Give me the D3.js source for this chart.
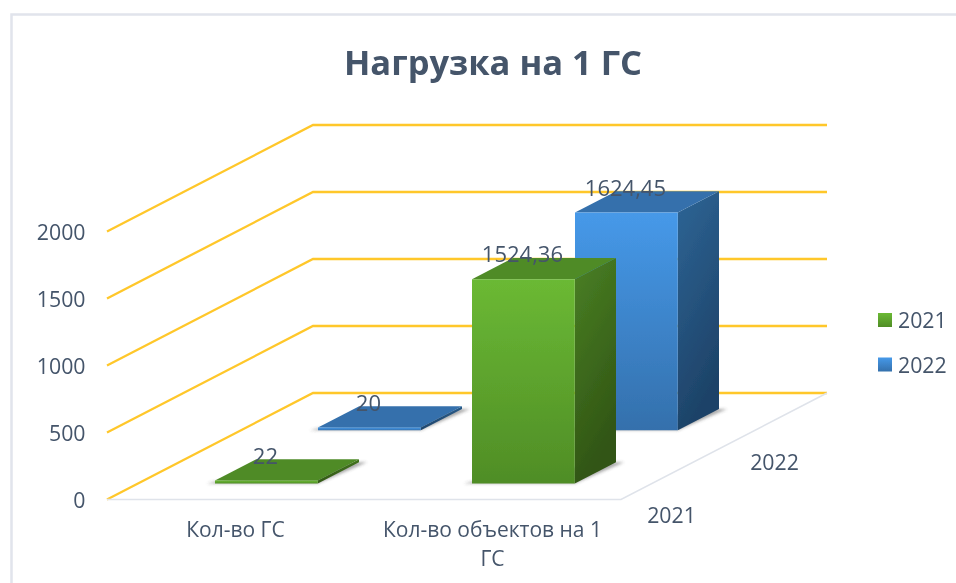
<!DOCTYPE html>
<html>
<head>
<meta charset="utf-8">
<script src="https://cdn.jsdelivr.net/npm/d3@7"></script>
<style>
  html, body { margin: 0; padding: 0; background: #fff; overflow: hidden; }
  svg { display: block; }
  text { font-family: "Open Sans", sans-serif; fill: #44546a; }
</style>
</head>
<body>
<div id="chart"></div>
<script>
const title = 'Нагрузка на 1 ГС'
    , categories = ['Кол-во ГС', 'Кол-во объектов на 1 ГС']
    , seriesNames = ['2021', '2022']
    , values2021 = [22, 1524.36]
    , values2022 = [20, 1624.45]
    , valueTicks = [0, 500, 1000, 1500, 2000]
    ;

const width = 956
    , height = 583
    , frontLeft = [107, 499.5]
    , frontWidth = 514
    , depthDx = 206
    , depthDy = 106.5
    ;

const seriesValues = [values2021, values2022]
    , palette = [
        { front: ['#6bb934', '#4f8d26'], side: ['#4a8024', '#305414'], top: '#4f8b28' },
        { front: ['#4699e9', '#3470ac'], side: ['#2e6596', '#1d4267'], top: '#3470ac' }
      ];

const xScale = d3.scaleBand().domain(categories).range([0, frontWidth]).paddingInner(0.6).paddingOuter(0.3)
    , zScale = d3.scaleBand().domain(seriesNames).range([0, 1]).paddingInner(0.6).paddingOuter(0.3)
    , yScale = d3.scaleLinear().domain([0, 2000]).range([0, 268])
    ;

// floor coords (x along front edge, z into the chart 0..1) plus value height -> screen
function project(x, z, v) {
  return [frontLeft[0] + x + z * depthDx, frontLeft[1] - z * depthDy - yScale(v)];
}

function poly(points) {
  return points.map(p => p.join(',')).join(' ');
}

const svg = d3.select('#chart')
  .append('svg')
    .attr('width', width)
    .attr('height', height)
    .attr('viewBox', [0, 0, width, height]);

const defs = svg.append('defs');

defs.append('filter').attr('id', 'soft')
  .append('feGaussianBlur').attr('stdDeviation', 0.5);
defs.append('filter').attr('id', 'shadow').attr('x', '-20%').attr('y', '-50%').attr('width', '140%').attr('height', '200%')
  .append('feGaussianBlur').attr('stdDeviation', 1.6);

function addGradient(id, colors, x2, y2) {
  const g = defs.append('linearGradient').attr('id', id)
      .attr('x1', 0).attr('y1', 0).attr('x2', x2).attr('y2', y2);
  g.append('stop').attr('offset', '0%').attr('stop-color', colors[0]);
  g.append('stop').attr('offset', '100%').attr('stop-color', colors[1]);
}

palette.forEach((p, i) => {
  addGradient('front' + i, p.front, 0, 1);
  addGradient('side' + i, p.side, 0.3, 1);
});

const root = svg.append('g').attr('filter', 'url(#soft)');

// chart frame, only top and left are in the crop
root.append('path')
    .attr('d', 'M11.5,' + height + 'V14.5H' + width)
    .attr('fill', 'none')
    .attr('stroke', '#e1e4ec')
    .attr('stroke-width', 2.5);

// walls
root.append('g').selectAll('polyline')
  .data(valueTicks)
  .join('polyline')
    .attr('points', d => poly([project(0, 0, d), project(0, 1, d), project(frontWidth, 1, d)]))
    .attr('fill', 'none')
    .attr('stroke', '#ffc72a')
    .attr('stroke-width', 2.3);

// floor edge
root.append('polyline')
    .attr('points', poly([project(0, 0, 0), project(frontWidth, 0, 0), project(frontWidth, 1, 0)]))
    .attr('fill', 'none')
    .attr('stroke', '#dfe3ea')
    .attr('stroke-width', 1.5);

// back series first so the front ones overlap it
const bars = [];
for (let s = seriesNames.length - 1; s >= 0; s--) {
  categories.forEach((c, i) => bars.push({ s, c, v: seriesValues[s][i] }));
}

root.append('g').selectAll('g')
  .data(bars)
  .join('g')
    .each(function(d) {
      const x0 = xScale(d.c)
          , x1 = x0 + xScale.bandwidth()
          , z0 = zScale(seriesNames[d.s])
          , z1 = z0 + zScale.bandwidth()
          , g = d3.select(this)
          ;

      g.append('polygon')
          .attr('points', poly([
            project(x0 - 8, z0, 0), project(x1, z0, 0),
            project(x1 + 8, z1, 0), project(x1 - 1, z1, 0), project(x0 - 4, z0 + 0.02, 0)
          ]))
          .attr('fill', '#555')
          .attr('opacity', 0.5)
          .attr('filter', 'url(#shadow)');

      g.append('polygon')
          .attr('points', poly([project(x1, z0, 0), project(x1, z1, 0), project(x1, z1, d.v), project(x1, z0, d.v)]))
          .attr('fill', `url(#side${d.s})`);

      g.append('polygon')
          .attr('points', poly([project(x0, z0, d.v), project(x1, z0, d.v), project(x1, z1, d.v), project(x0, z1, d.v)]))
          .attr('fill', palette[d.s].top);

      g.append('polygon')
          .attr('points', poly([project(x0, z0, 0), project(x1, z0, 0), project(x1, z0, d.v), project(x0, z0, d.v)]))
          .attr('fill', `url(#front${d.s})`);
    });

// value labels
root.append('g').selectAll('text')
  .data(bars)
  .join('text')
    .attr('x', d => project(xScale(d.c) + xScale.bandwidth() / 2, zScale(seriesNames[d.s]), d.v)[0] - 1)
    .attr('y', d => project(xScale(d.c), zScale(seriesNames[d.s]), d.v)[1] - 17)
    .attr('text-anchor', 'middle')
    .attr('font-size', 22)
    .text(d => String(d.v).replace('.', ','));

// value axis
root.append('g').selectAll('text')
  .data(valueTicks)
  .join('text')
    .attr('x', 85.5)
    .attr('y', d => project(0, 0, d)[1] + 8.5)
    .attr('text-anchor', 'end')
    .attr('font-size', 21.3)
    .text(d => d);

// category axis, long label wraps
const catLines = d => d.length > 12 ? [d.slice(0, d.lastIndexOf(' ')), d.slice(d.lastIndexOf(' ') + 1)] : [d];

root.append('g').selectAll('text')
  .data(categories)
  .join('text')
    .attr('font-size', 21)
    .attr('text-anchor', 'middle')
    .attr('y', 537)
    .each(function(d) {
      const cx = project(xScale(d) + xScale.bandwidth() / 2, 0, 0)[0];
      d3.select(this).selectAll('tspan')
        .data(catLines(d))
        .join('tspan')
          .attr('x', cx)
          .attr('dy', (l, i) => i ? 29 : 0)
          .text(l => l);
    });

// depth axis
root.append('g').selectAll('text')
  .data(seriesNames)
  .join('text')
    .attr('x', d => project(frontWidth, zScale(d) + zScale.bandwidth() / 2, 0)[0] - 1)
    .attr('y', d => project(frontWidth, zScale(d) + zScale.bandwidth() / 2, 0)[1] + 50.5)
    .attr('text-anchor', 'middle')
    .attr('font-size', 21.3)
    .text(d => d);

// legend
const legendY = d3.scalePoint().domain(seriesNames).range([320, 364.5]);

const legend = root.append('g').selectAll('g')
  .data(seriesNames)
  .join('g')
    .attr('transform', d => `translate(878,${legendY(d)})`);

legend.append('rect')
    .attr('y', -7)
    .attr('width', 14)
    .attr('height', 14)
    .attr('fill', (d, i) => `url(#front${i})`);

legend.append('text')
    .attr('x', 20)
    .attr('y', 8)
    .attr('font-size', 21.3)
    .text(d => d);

// title
root.append('text')
    .attr('x', 493)
    .attr('y', 75)
    .attr('text-anchor', 'middle')
    .attr('font-size', 34.5)
    .attr('font-weight', 700)
    .text(title);
</script>
</body>
</html>
